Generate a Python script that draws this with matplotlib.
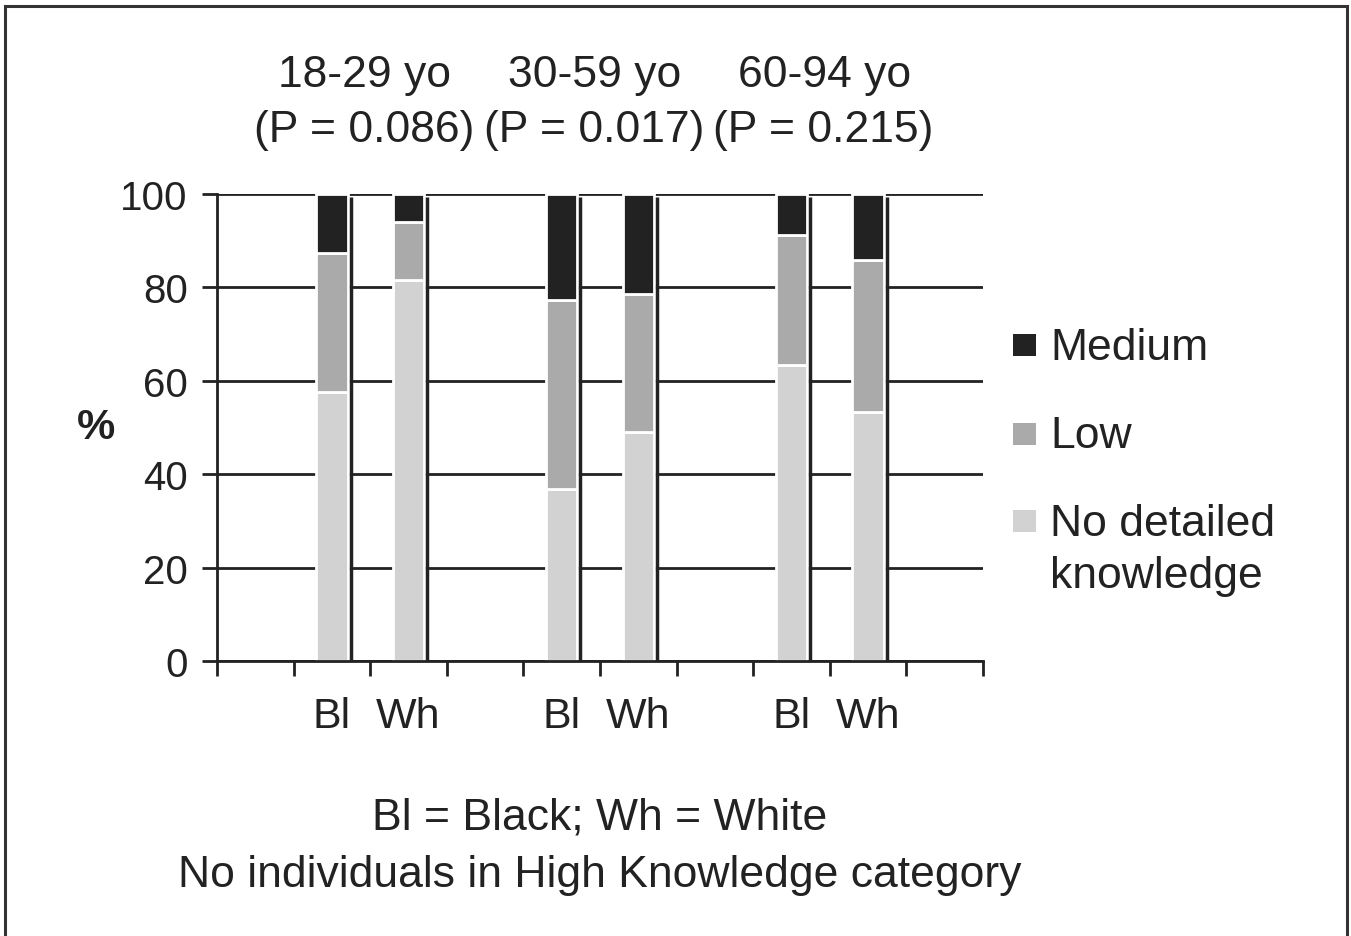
import matplotlib.pyplot as plt
from matplotlib.patches import Rectangle

plt.rcParams['font.family'] = ['Liberation Sans', 'DejaVu Sans']

# knowledge level by age group and race (% of respondents)
age_groups = ['18-29 yo', '30-59 yo', '60-94 yo']
p_values = ['(P = 0.086)', '(P = 0.017)', '(P = 0.215)']
races = ['Bl', 'Wh']
no_detail = [57.5, 81.5, 36.8, 49.0, 63.4, 53.3]
low = [29.9, 12.4, 40.5, 29.5, 27.9, 32.5]
medium = [12.6, 6.1, 22.7, 21.5, 8.7, 14.2]

levels = ['No detailed\nknowledge', 'Low', 'Medium']
colors = ['#d2d2d2', '#aaaaaa', '#222222']
ink = '#222222'

W, H = 1351, 937
fig = plt.figure(figsize=(W / 100, H / 100), dpi=100)
ax = fig.add_axes([217 / W, 1 - 662 / H, (983 - 217) / W, (662 - 195) / H])

group_centers = [2, 5, 8]
xpos = [c + d for c in group_centers for d in (-0.5, 0.5)]
width = 0.41

bottom = [0.0] * len(xpos)
for vals, col in zip([no_detail, low, medium], colors):
    ax.bar(xpos, vals, width, bottom=bottom, color=col, edgecolor='white',
           linewidth=2.0, zorder=2)
    bottom = [b + v for b, v in zip(bottom, vals)]

# dark rule to the right of every bar
ax.vlines([x + 0.245 for x in xpos], 0, [b - 0.7 for b in bottom],
          colors=ink, linewidth=2.5, zorder=3)

ax.set_xlim(0, 10)
ax.set_ylim(0, 100)
ax.set_yticks(range(0, 101, 20))
ax.set_xticks(xpos)
ax.set_xticklabels(races * len(age_groups))
ax.set_xticks(range(0, 11), minor=True)
ax.tick_params(axis='x', which='major', length=0, pad=25, labelsize=31,
               labelcolor=ink)
ax.tick_params(axis='x', which='minor', length=11, width=2, color=ink,
               direction='out')
ax.tick_params(axis='y', length=11, width=2, color=ink, pad=10,
               labelsize=29, labelcolor=ink)

ax.grid(axis='y', color=ink, linewidth=2.0, zorder=1)
ax.set_axisbelow(True)
for side in ('top', 'right'):
    ax.spines[side].set_visible(False)
for side in ('left', 'bottom'):
    ax.spines[side].set_color(ink)
    ax.spines[side].set_linewidth(2.0)
    ax.spines[side].set_zorder(3)

ax.set_ylabel('%', rotation=0, fontsize=31, fontweight='bold', color=ink,
              ha='center', va='center')
ax.yaxis.set_label_coords(-0.158, 0.501)

# group headings with p-values
tr = ax.get_xaxis_transform()
for c, g, p in zip(group_centers, age_groups, p_values):
    ax.text(c - 0.07, 1.231, g, transform=tr, ha='center', va='baseline',
            fontsize=32, color=ink)
    ax.text(c - 0.08, 1.114, p, transform=tr, ha='center', va='baseline',
            fontsize=32, color=ink)

# legend, top entry first
leg_y = [346, 434.5, 522]
for (lab, col), y in zip(list(zip(levels, colors))[::-1], leg_y):
    fig.add_artist(Rectangle((1013 / W, 1 - (y + 11) / H), 23 / W, 22 / H,
                             transform=fig.transFigure, color=col, lw=0))
    fig.text(1050 / W, 1 - (y + 14) / H, lab.split('\n')[0], fontsize=32,
             color=ink, va='baseline', ha='left')
    if '\n' in lab:
        fig.text(1050 / W, 1 - (y + 66) / H, lab.split('\n')[1], fontsize=32,
                 color=ink, va='baseline', ha='left')

fig.text(600 / W, 1 - 830 / H, 'Bl = Black; Wh = White', fontsize=32,
         color=ink, ha='center', va='baseline')
fig.text(600 / W, 1 - 887 / H, 'No individuals in High Knowledge category',
         fontsize=32, color=ink, ha='center', va='baseline')

# outer frame, open at the bottom
fig.add_artist(Rectangle((5.5 / W, -0.02), (1346.5 - 5.5) / W, 1.02 - 6.5 / H,
                         transform=fig.transFigure, fill=False, lw=2.2,
                         edgecolor='#333333'))

fig.savefig('out.png', dpi=100)
